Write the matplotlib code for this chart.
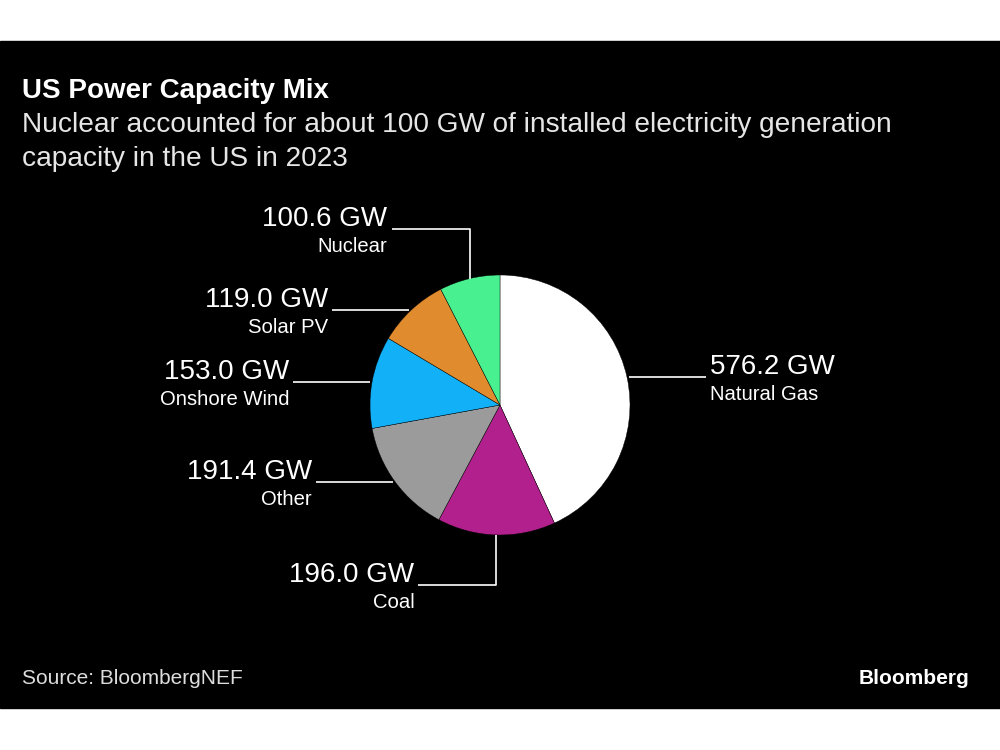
import numpy as np
import matplotlib.pyplot as plt
from matplotlib.patches import Rectangle

plt.rcParams['font.family'] = ['Liberation Sans', 'DejaVu Sans']

# data (GW, 2023)
sources = ['Natural Gas', 'Coal', 'Other', 'Onshore Wind', 'Solar PV', 'Nuclear']
capacity_gw = [576.2, 196.0, 191.4, 153.0, 119.0, 100.6]
colors = ['#ffffff', '#b1208c', '#9b9b9b', '#12b0f7', '#e08c2e', '#48f08f']

title = 'US Power Capacity Mix'
subtitle = ['Nuclear accounted for about 100 GW of installed electricity generation',
            'capacity in the US in 2023']
source = 'Source: BloombergNEF'

W, H = 1000, 750
fig = plt.figure(figsize=(10, 7.5), dpi=100)
fig.patch.set_facecolor('white')
ax = fig.add_axes([0, 0, 1, 1])

# black panel
ax.add_patch(Rectangle((0, H - 708), W, 667, color='black', zorder=0))

cx, cy, r = 500, H - 405, 130
wedges, _ = ax.pie(capacity_gw, colors=colors, startangle=90, counterclock=False,
                   center=(cx, cy), radius=r,
                   wedgeprops=dict(edgecolor='black', linewidth=0.3))

# leader lines + labels
for w, name, val in zip(wedges, sources, capacity_gw):
    mid = np.deg2rad((w.theta1 + w.theta2) / 2)
    x0 = cx + r * np.cos(mid)
    y0 = cy + r * np.sin(mid)
    side = 1 if np.cos(mid) > 0 else -1
    if abs(np.sin(mid)) > 0.9:
        y1 = y0 + 50 * np.sign(np.sin(mid))
        xs, ys = [x0, x0, x0 - 78], [y0, y1, y1]
        side = -1
    else:
        xs, ys = [x0 + side * 2, x0 + side * 79], [y0, y0]
    ax.plot(xs, ys, color='white', lw=1.2, solid_capstyle='butt')
    xe, ye = xs[-1], ys[-1]
    ha = 'left' if side > 0 else 'right'
    ax.text(xe + side * 4, ye + 3, f'{val:.1f} GW', ha=ha, va='baseline',
            fontsize=20, color='white')
    ax.text(xe + side * 4, ye - 8, name, ha=ha, va='top', fontsize=14.6, color='white')

ax.set_xlim(0, W)
ax.set_ylim(0, H)
ax.set_aspect('equal')
ax.axis('off')

ax.text(22, H - 98, title, fontsize=20, fontweight='bold', color='white', va='baseline')
for i, line in enumerate(subtitle):
    ax.text(22, H - 132 - 34 * i, line, fontsize=20.2, color='#e6e6e6', va='baseline')
ax.text(22, H - 684, source, fontsize=15, color='#dddddd', va='baseline')
ax.text(969, H - 684, 'Bloomberg', fontsize=15, fontweight='bold', color='white',
        va='baseline', ha='right')

fig.savefig('out.png', dpi=100, facecolor='white')
